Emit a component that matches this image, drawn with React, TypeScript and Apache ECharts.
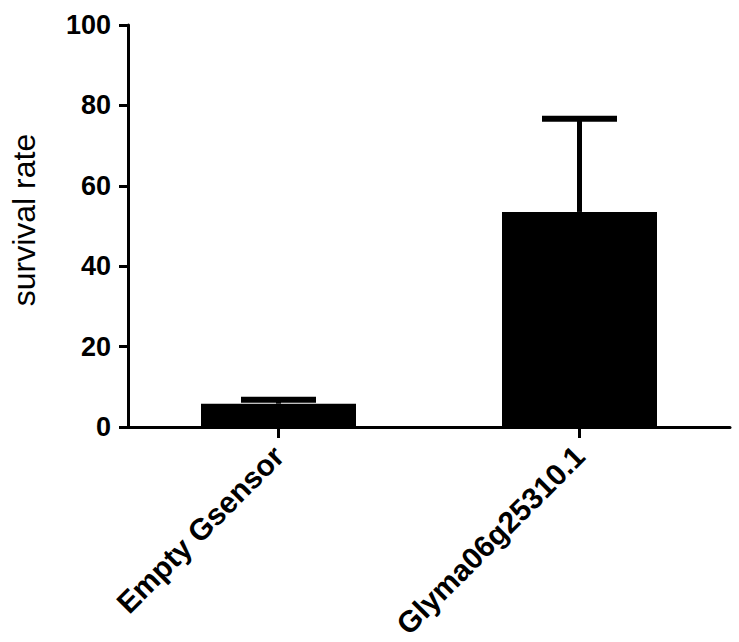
import React, { useEffect, useRef } from "react";
import * as echarts from "echarts";

const categories = ["Empty Gsensor", "Glyma06g25310.1"];
const means = [5.8, 53.5];
const errors = [1.0, 23.2];
const yTicks = { min: 0, max: 100, interval: 20 };

export default function App() {
  const ref = useRef<HTMLDivElement>(null);
  useEffect(() => {
    if (!ref.current) return;
    const chart = echarts.init(ref.current, null, { renderer: "svg" });
    const errData = means.map((m, i) => [i, m, m + errors[i]]);
    chart.setOption({
      animation: false,
      backgroundColor: "#ffffff",
      grid: { left: 124, right: 9, top: 25, bottom: 215, containLabel: false },
      xAxis: {
        type: "category",
        data: categories,
        axisLine: { show: true, lineStyle: { color: "#000", width: 3 } },
        axisTick: { show: true, alignWithLabel: true, length: 11, lineStyle: { color: "#000", width: 3 } },
        axisLabel: {
          rotate: 45,
          margin: 24,
          color: "#000",
          fontFamily: "Liberation Sans, Arial, sans-serif",
          fontWeight: "bold",
          fontSize: 30,
        },
      },
      yAxis: {
        type: "value",
        min: yTicks.min,
        max: yTicks.max,
        interval: yTicks.interval,
        name: "survival rate",
        nameLocation: "middle",
        nameGap: 88,
        nameTextStyle: {
          color: "#000",
          fontFamily: "Liberation Sans, Arial, sans-serif",
          fontSize: 32,
          padding: [0, 0, 0, 12],
        },
        axisLine: { show: true, lineStyle: { color: "#000", width: 3 } },
        axisTick: { show: true, length: 9, lineStyle: { color: "#000", width: 3 } },
        splitLine: { show: false },
        axisLabel: {
          margin: 17,
          color: "#000",
          fontFamily: "Liberation Sans, Arial, sans-serif",
          fontWeight: "bold",
          fontSize: 27,
        },
      },
      series: [
        {
          type: "bar",
          data: means,
          barWidth: 155,
          itemStyle: { color: "#000" },
          z: 2,
        },
        {
          type: "custom",
          data: errData,
          z: 3,
          renderItem: (params: any, api: any) => {
            const x = api.value(0);
            const lo = api.coord([x, api.value(1)]);
            const hi = api.coord([x, api.value(2)]);
            const half = 37.5;
            return {
              type: "group",
              children: [
                {
                  type: "line",
                  shape: { x1: lo[0], y1: lo[1], x2: hi[0], y2: hi[1] },
                  style: { stroke: "#000", lineWidth: 5 },
                },
                {
                  type: "line",
                  shape: { x1: hi[0] - half, y1: hi[1], x2: hi[0] + half, y2: hi[1] },
                  style: { stroke: "#000", lineWidth: 6 },
                },
              ],
            };
          },
        },
      ],
    });
    return () => chart.dispose();
  }, []);
  return (
    <div
      ref={ref}
      style={{ position: "absolute", left: 0, top: 0, width: 739, height: 642 }}
    />
  );
}
